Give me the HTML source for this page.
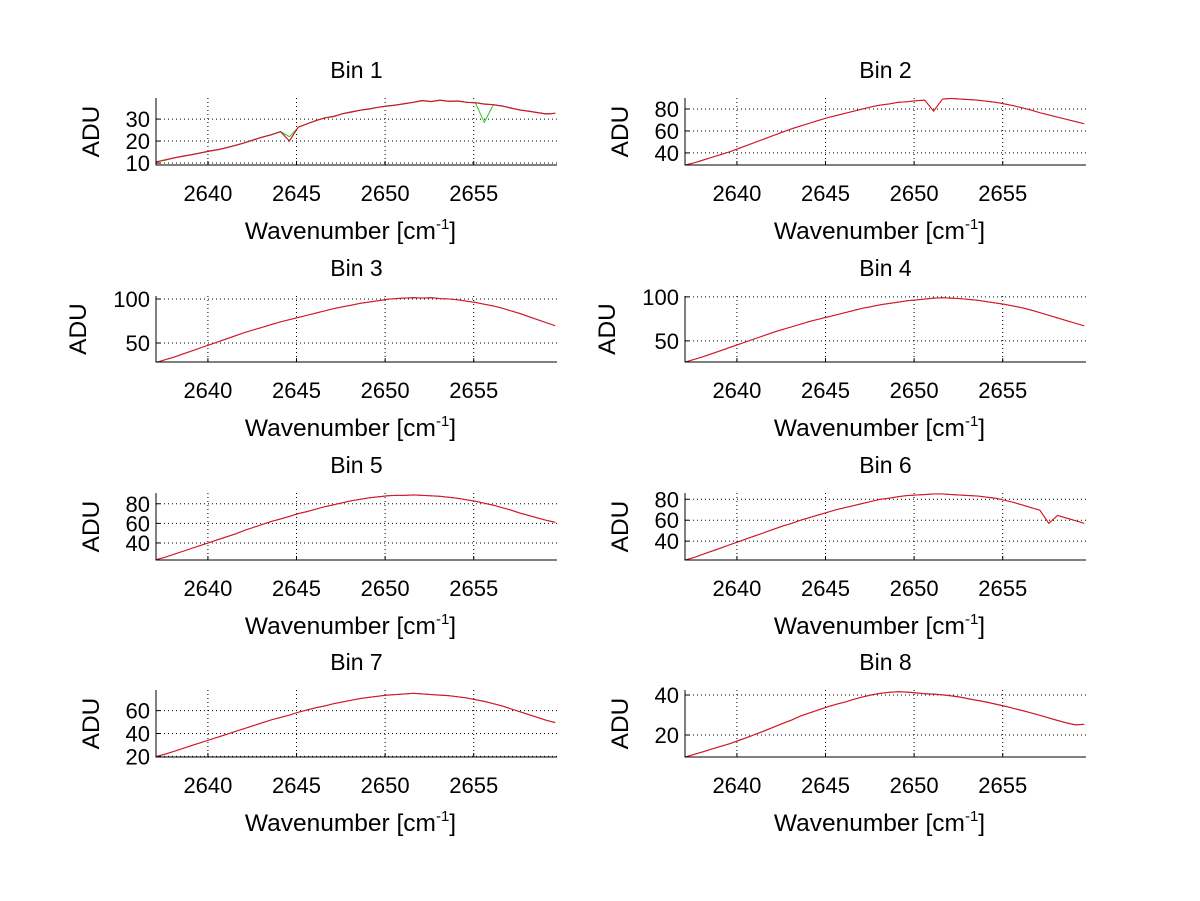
<!DOCTYPE html>
<html><head><meta charset="utf-8"><style>
html,body{margin:0;padding:0;background:#fff;}
svg{display:block;font-family:"Liberation Sans",sans-serif;}
</style></head><body>
<svg id="fig" width="1200" height="901" viewBox="0 0 1200 901" xmlns="http://www.w3.org/2000/svg"></svg>
<script>
const wavenumbers=[2637.1,2637.6,2638.1,2638.6,2639.1,2639.6,2640.1,2640.6,2641.1,2641.6,2642.1,2642.6,2643.1,2643.6,2644.1,2644.6,2645.1,2645.6,2646.1,2646.6,2647.1,2647.6,2648.1,2648.6,2649.1,2649.6,2650.1,2650.6,2651.1,2651.6,2652.1,2652.6,2653.1,2653.6,2654.1,2654.6,2655.1,2655.6,2656.1,2656.6,2657.1,2657.6,2658.1,2658.6,2659.1,2659.6];
const bin1=[10.5,11.4,12.3,13.1,13.8,14.6,15.4,16.1,17.0,18.1,19.2,20.6,21.8,22.9,24.2,20.0,26.3,27.8,29.3,30.5,31.2,32.4,33.2,34.0,34.6,35.3,35.9,36.3,37.0,37.6,38.4,37.9,38.6,38.0,38.2,37.6,37.4,36.8,36.5,35.9,35.0,34.1,33.6,32.9,32.3,32.6];
const bin1Alt=[10.6,11.3,12.4,13.0,13.9,14.5,15.5,16.0,17.1,18.0,19.3,20.5,21.9,22.8,24.3,22.0,26.2,27.9,29.2,30.6,31.1,32.5,33.1,34.1,34.5,35.4,35.8,36.4,36.9,37.7,38.3,38.0,38.5,38.1,38.1,37.7,37.3,28.5,36.4,36.0,34.9,34.2,33.5,33.0,32.2,32.7];
const bin2=[29,31,33.5,36,38.5,41,44,47,50,53,56,59,62,64.5,67,69.5,72,74,76,78,80,82,83.5,84.5,86,86.5,87.5,88,78,89,89.5,89,88.5,88,87,86,84.5,83,81,79,76.5,74.5,72.5,70.5,68.5,66.5];
const bin3=[28,31,34,37.5,41,44.5,48,51.5,55,58.5,62,65,68,71,74,76.5,79,81.5,84,86.5,89,91,93,95,96.5,98,99.5,100.5,101,101.5,101,101.5,100.5,100,99,97.5,96,94,92,89.5,86.5,83.5,80,76.5,73,69.5];
const bin4=[26,29,32,35.5,39,42.5,46,49.5,53,56.5,60,63,66,69,72,74.5,77,79.5,82,84.5,87,89,91,92.5,94,95.5,96.5,97.5,98.5,99,98.5,98,97,96,94.5,93,91.5,89.5,87.5,85,82,79,76,73,70,67];
const bin5=[23,25.5,28.5,31.5,34.5,37.5,40.5,43.5,46.5,49.5,53,56,59,62,64.5,67,70,72,74.5,77,79,81,83,84.5,86,87,88,88.5,88.5,89,88.5,88,87.5,86.5,85.5,84,82.5,80.5,78.5,76,73.5,70.5,68,65.5,63,61];
const bin6=[22,24.5,27.5,30.5,33.5,36.5,39.5,42.5,45.5,48.5,51.5,54.5,57,60,62.5,65,67.5,70,72,74,76,78,80,81,82.5,83.5,84,84.5,85,85,84.5,84,83.5,83,82,81,79,77,74.5,72,69.5,57,64.5,62,59.5,57];
const bin7=[20,22,24.5,27,29.5,32,34.5,37,39.5,42,44.5,47,49.5,52,54,56,58.5,60.5,62.5,64,66,67.5,69,70.5,71.5,72.5,73.5,74,74.5,75,74.5,74,73.5,73,72,71,69.5,68,66,64,61.5,59,56.5,54,51.5,49.5];
const bin8=[9,10.3,11.6,13,14.3,15.6,17.2,18.8,20.5,22.2,24,25.8,27.5,29.5,31,32.5,34,35.3,36.4,37.8,39,40,40.8,41.3,41.6,41.4,41,40.6,40.4,40,39.5,38.9,38,37.2,36.4,35.4,34.4,33.3,32.2,31,29.8,28.5,27.2,26,25,25.3];
const xTicks=[2640,2645,2650,2655];
const yTicks1=[10,20,30],yTicks2=[40,60,80],yTicks3=[50,100],yTicks4=[50,100],yTicks5=[40,60,80],yTicks6=[40,60,80],yTicks7=[20,40,60],yTicks8=[20,40];
const yDomains=[[9.1,39.6],[29,90],[28.4,103.4],[26,101],[22.6,91],[22,86],[19.5,78],[9,42.5]];

const svg=document.getElementById('fig');
const NS='http://www.w3.org/2000/svg';
function mk(tag,attrs,parent){const e=document.createElementNS(NS,tag);for(const k in attrs)e.setAttribute(k,attrs[k]);(parent||svg).appendChild(e);return e;}
const series=[bin1,bin2,bin3,bin4,bin5,bin6,bin7,bin8];
const ticksAll=[yTicks1,yTicks2,yTicks3,yTicks4,yTicks5,yTicks6,yTicks7,yTicks8];
const tops=[98,296,493,690],bots=[165,362,560,757];
const xDom=[2637.07,2659.7];
for(let i=0;i<8;i++){
  const col=i%2,row=Math.floor(i/2);
  const L=col?685:156,R=col?1086:557,T=tops[row],B=bots[row];
  const xs=v=>L+(v-xDom[0])/(xDom[1]-xDom[0])*(R-L);
  const ys=v=>B-(v-yDomains[i][0])/(yDomains[i][1]-yDomains[i][0])*(B-T);
  const g=mk('g',{});
  
  
  xTicks.forEach(t=>{const l=mk('line',{x1:xs(t),x2:xs(t),y1:T,y2:B,stroke:'#000','stroke-width':1,'stroke-dasharray':'1,3'},g);
    
    mk('line',{x1:xs(t),x2:xs(t),y1:B,y2:B-4,stroke:'#000'},g);
    const tx=mk('text',{x:xs(t),y:B+36,'font-size':22,'text-anchor':'middle'},g);tx.textContent=t;
    });
  ticksAll[i].forEach(t=>{const l=mk('line',{x1:L,x2:R,y1:ys(t),y2:ys(t),stroke:'#000','stroke-width':1,'stroke-dasharray':'1,3'},g);
    
    mk('line',{x1:L,x2:L+4,y1:ys(t),y2:ys(t),stroke:'#000'},g);
    const tx=mk('text',{x:L-6,y:ys(t)+8,'font-size':22,'text-anchor':'end'},g);tx.textContent=t;
    });
  const pts=a=>a.map((v,k)=>xs(wavenumbers[k]).toFixed(1)+','+ys(v).toFixed(1)).join(' ');
  if(i===0){const a=mk('polyline',{points:pts(bin1Alt),fill:'none',stroke:'#22cc22','stroke-width':1},g);
    }
  const b=mk('polyline',{points:pts(series[i].map(v=>v+0.1)),fill:'none',stroke:'#3344aa','stroke-width':1},g);
  
  const r=mk('polyline',{points:pts(series[i]),fill:'none',stroke:'#ee1111','stroke-width':1},g);
  
  const ax=mk('path',{d:`M${L},${T} V${B} H${R}`,fill:'none',stroke:'#000','stroke-width':1},g);
  
  const ti=mk('text',{x:(L+R)/2,y:T-20,'font-size':23,'text-anchor':'middle'},g);ti.textContent='Bin '+(i+1);
  
  const xl=mk('text',{x:(L+R)/2-6,y:B+74,'font-size':24.5,'text-anchor':'middle'},g);
  xl.textContent='Wavenumber [cm';
  const sup=mk('tspan',{'font-size':15,dy:-10},xl);sup.textContent='-1';
  const cl=mk('tspan',{'font-size':24.5,dy:10},xl);cl.textContent=']';
  
  const wide=(i===2||i===3);
  const yx=L-(wide?70:57),yc=(T+B)/2;
  const yl=mk('text',{x:yx,y:yc,'font-size':24.5,'text-anchor':'middle',transform:`rotate(-90 ${yx} ${yc})`},g);yl.textContent='ADU';
  
}
</script>
</body></html>
